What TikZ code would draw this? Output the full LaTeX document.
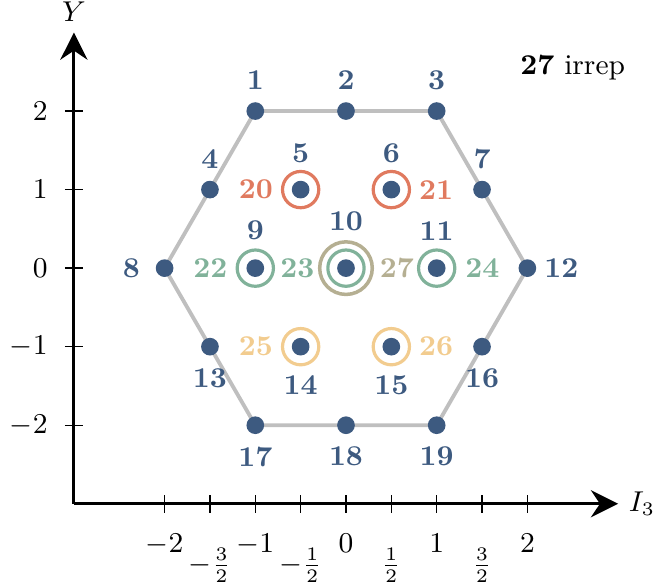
\documentclass[tikz,border=0pt]{standalone}
\usetikzlibrary{arrows.meta,positioning}
\definecolor{dblue}{HTML}{3D5A80}
\definecolor{coral}{HTML}{E07A5F}
\definecolor{sage}{HTML}{81B29A}
\definecolor{sand}{HTML}{F2CC8F}
\definecolor{tanc}{HTML}{B5AF92}
\definecolor{hexgray}{HTML}{BFBFBF}
\begin{document}
\begin{tikzpicture}[x=1cm,y=0.866cm,font=\fontsize{9}{11}\selectfont,
  dot/.style={circle,fill=dblue,minimum size=0.195cm,inner sep=0pt,outer sep=0pt},
  ring/.style={circle,draw=#1,line width=1pt,minimum size=0.4cm,inner sep=0pt,outer sep=0pt},
  bigring/.style={circle,draw=#1,line width=1.1pt,minimum size=0.58cm,inner sep=0pt,outer sep=0pt},
  lbl/.style={inner sep=0pt,outer sep=0pt,font=\fontsize{9}{11}\selectfont\bfseries,text=#1},
  lbl/.default=dblue,
  axisline/.style={line width=0.9pt,-{Stealth[length=3mm,width=3mm,inset=1mm]}},
  tickmark/.style={line width=0.4pt},
  ticklbl/.style={inner sep=0pt,outer sep=0pt},
  hexline/.style={draw=hexgray,line width=1.2pt,line join=round}
]
\useasboundingbox (-3.815,-4.051) rectangle (3.396,3.414);

% axes
\coordinate (O) at (-3,-3);
\coordinate (xend) at (3,-3);
\coordinate (yend) at (-3,3);
\draw[axisline] (O) -- (xend);
\draw[axisline] (O) -- (yend);
\node[ticklbl,above=0.12cm of yend] (ylab) {$Y$};
\node[ticklbl,right=0.12cm of xend] (xlab) {$I_3$};

% x ticks
\foreach \x in {-2,-1.5,...,2}{
  \draw[tickmark] (\x,-3) ++(0,-0.1cm) -- ++(0,0.2cm);
}
\foreach \x/\t in {-2/-2,-1/-1,0/0,1/1,2/2}{
  \node[ticklbl,anchor=north] (xt\x) at ([yshift=-0.337cm]\x,-3) {$\t$};
}
\foreach \x/\t/\n in {-1.5/-\frac{3}{2}/a,-0.5/-\frac{1}{2}/b,0.5/\frac{1}{2}/c,1.5/\frac{3}{2}/d}{
  \node[ticklbl] (xf\n) at ([yshift=-0.68cm]\x,-3) {$\t$};
}
% y ticks
\foreach \y in {-2,...,2}{
  \draw[tickmark] (-3,\y) ++(-0.1cm,0) -- ++(0.2cm,0);
  \node[ticklbl,anchor=east] (yt\y) at ([xshift=-0.29cm]-3,\y) {$\y$};
}

% hexagon
\draw[hexline] (-1,2) -- (1,2) -- (2,0) -- (1,-2) -- (-1,-2) -- (-2,0) -- cycle;

% rings
\node[ring=coral] (r5) at (-0.5,1) {};
\node[ring=coral] (r6) at (0.5,1) {};
\node[ring=sage] (r9) at (-1,0) {};
\node[ring=sage] (r10) at (0,0) {};
\node[bigring=tanc] (R10) at (0,0) {};
\node[ring=sage] (r11) at (1,0) {};
\node[ring=sand] (r14) at (-0.5,-1) {};
\node[ring=sand] (r15) at (0.5,-1) {};

% dots
\node[dot] (d1) at (-1,2) {};
\node[dot] (d2) at (0,2) {};
\node[dot] (d3) at (1,2) {};
\node[dot] (d4) at (-1.5,1) {};
\node[dot] (d5) at (-0.5,1) {};
\node[dot] (d6) at (0.5,1) {};
\node[dot] (d7) at (1.5,1) {};
\node[dot] (d8) at (-2,0) {};
\node[dot] (d9) at (-1,0) {};
\node[dot] (d10) at (0,0) {};
\node[dot] (d11) at (1,0) {};
\node[dot] (d12) at (2,0) {};
\node[dot] (d13) at (-1.5,-1) {};
\node[dot] (d14) at (-0.5,-1) {};
\node[dot] (d15) at (0.5,-1) {};
\node[dot] (d16) at (1.5,-1) {};
\node[dot] (d17) at (-1,-2) {};
\node[dot] (d18) at (0,-2) {};
\node[dot] (d19) at (1,-2) {};

% labels
\node[lbl,above=0.14cm of d1] (l1) {1};
\node[lbl,above=0.14cm of d2] (l2) {2};
\node[lbl,above=0.14cm of d3] (l3) {3};
\node[lbl,above=0.13cm of d4] (l4) {4};
\node[lbl,above=0.2cm of d5] (l5) {5};
\node[lbl,above=0.2cm of d6] (l6) {6};
\node[lbl,above=0.13cm of d7] (l7) {7};
\node[lbl,left=0.175cm of d8] (l8) {8};
\node[lbl,above=0.21cm of d9] (l9) {9};
\node[lbl,above=0.31cm of d10] (l10) {10};
\node[lbl,above=0.21cm of d11] (l11) {11};
\node[lbl,right=0.09cm of d12] (l12) {12};
\node[lbl,below=0.15cm of d13] (l13) {13};
\node[lbl,below=0.22cm of d14] (l14) {14};
\node[lbl,below=0.22cm of d15] (l15) {15};
\node[lbl,below=0.15cm of d16] (l16) {16};
\node[lbl,below=0.14cm of d17] (l17) {17};
\node[lbl,below=0.14cm of d18] (l18) {18};
\node[lbl,below=0.14cm of d19] (l19) {19};
\node[lbl=coral,left=0.21cm of d5] (l20) {20};
\node[lbl=coral,right=0.21cm of d6] (l21) {21};
\node[lbl=sage,left=0.21cm of d9] (l22) {22};
\node[lbl=sage,right=0.18cm of d9] (l23) {23};
\node[lbl=sage,right=0.22cm of d11] (l24) {24};
\node[lbl=sand,left=0.21cm of d14] (l25) {25};
\node[lbl=sand,right=0.21cm of d15] (l26) {26};
\node[lbl=tanc,right=0.275cm of d10] (l27) {27};

\node[inner sep=0pt] (title) at (2.5,2.55) {\textbf{27} irrep};
\end{tikzpicture}
\end{document}
